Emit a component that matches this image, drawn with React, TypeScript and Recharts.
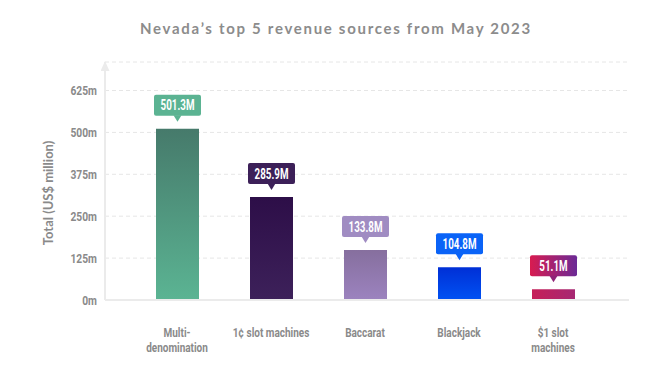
import React from 'react';
import { BarChart, Bar, XAxis, YAxis, CartesianGrid, LabelList, Cell } from 'recharts';

const categories = ['Multi-\ndenomination', '1¢ slot machines', 'Baccarat', 'Blackjack', '$1 slot\nmachines'];
const revenues = [511, 307, 149, 98, 32];
const valueLabels = ['501.3M', '285.9M', '133.8M', '104.8M', '51.1M'];
const yTicks = [0, 125, 250, 375, 500, 625];
const yTickLabels = ['0m', '125m', '250m', '375m', '500m', '625m'];

const barGradients = [
  { id: 'bar0', dir: 'v', from: '#467a6b', to: '#5bb493' },
  { id: 'bar1', dir: 'v', from: '#2d0e48', to: '#3d215a' },
  { id: 'bar2', dir: 'v', from: '#866f9e', to: '#9c83bf' },
  { id: 'bar3', dir: 'v', from: '#002fd6', to: '#0052f3' },
  { id: 'bar4', dir: 'h', from: '#c61f58', to: '#a62873' },
];
const labelGradients = [
  { id: 'lab0', from: '#5bb392', to: '#5bb392', tip: '#5bb392' },
  { id: 'lab1', from: '#3c2058', to: '#3c2058', tip: '#3c2058' },
  { id: 'lab2', from: '#a08cc2', to: '#a08cc2', tip: '#a08cc2' },
  { id: 'lab3', from: '#0a63f7', to: '#0a63f7', tip: '#0a63f7' },
  { id: 'lab4', from: '#d81b50', to: '#6b2a96', tip: '#8f2478' },
];

const data = categories.map((name, i) => ({ name, value: revenues[i], label: valueLabels[i] }));

const COND = "Roboto, 'DejaVu Sans', sans-serif";
const TITLE_FONT = "Lato, 'Open Sans', sans-serif";

const XTick = (props: any) => {
  const { x, y, payload } = props;
  const lines = String(payload.value).split('\n');
  return (
    <g transform={`translate(${x},${y + 37}) scale(0.8,1)`}>
      <text x={0} y={0} textAnchor="middle" fill="#8a8a8a" fontFamily={COND} fontSize={12.5} fontWeight={700}>
        {lines.map((l, i) => (
          <tspan key={i} x={0} dy={i === 0 ? 0 : 15}>{l}</tspan>
        ))}
      </text>
    </g>
  );
};

const YTick = (props: any) => {
  const { x, y, payload } = props;
  const label = yTickLabels[yTicks.indexOf(payload.value)];
  return (
    <g transform={`translate(${x},${y}) scale(0.82,1)`}>
      <text x={0} y={0} dy="0.36em" textAnchor="end" fill="#8a8a8a" fontFamily={COND} fontSize={12.5} fontWeight={700}>
        {label}
      </text>
    </g>
  );
};

const ValueLabel = (props: any) => {
  const { x, y, width, index, value } = props;
  const cx = x + width / 2;
  const gap = 7;
  const tipY = y - gap;
  const boxH = 21;
  const boxW = 47;
  const boxBottom = tipY - 6;
  const boxTop = boxBottom - boxH;
  const g = labelGradients[index];
  return (
    <g>
      <rect x={cx - boxW / 2} y={boxTop} width={boxW} height={boxH} rx={2} ry={2} fill={`url(#${g.id})`} />
      <path d={`M${cx - 4},${boxBottom - 0.5} L${cx + 4},${boxBottom - 0.5} L${cx},${tipY} Z`} fill={g.tip} />
      <g transform={`translate(${cx},${boxTop + boxH / 2}) scale(0.7,1)`}>
        <text x={0} y={0} dy="0.36em" textAnchor="middle" fill="#ffffff" fontFamily={COND} fontSize={14} fontWeight={700}>
          {value}
        </text>
      </g>
    </g>
  );
};

const YLabel = (props: any) => {
  const { viewBox } = props;
  const cx = viewBox.x + 17.5;
  const cy = viewBox.y + viewBox.height - 107;
  return (
    <text transform={`translate(${cx},${cy}) rotate(-90)`} textAnchor="middle" dominantBaseline="central" fill="#8a8a8a" fontFamily={TITLE_FONT} fontSize={13} fontWeight={700}>
      Total (US$ million)
    </text>
  );
};

export default function App() {
  return (
    <div style={{ position: 'absolute', left: 0, top: 0, width: 670, height: 380, background: '#ffffff' }}>
      <BarChart width={670} height={380} data={data} margin={{ top: 62, right: 41, bottom: 20, left: 30 }}>
        <defs>
          {barGradients.map((g) => (
            <linearGradient key={g.id} id={g.id} x1="0" y1="0" x2={g.dir === 'h' ? '1' : '0'} y2={g.dir === 'h' ? '0' : '1'}>
              <stop offset="0%" stopColor={g.from} />
              <stop offset="100%" stopColor={g.to} />
            </linearGradient>
          ))}
          {labelGradients.map((g) => (
            <linearGradient key={g.id} id={g.id} x1="0" y1="0" x2="1" y2="0">
              <stop offset="0%" stopColor={g.from} />
              <stop offset="100%" stopColor={g.to} />
            </linearGradient>
          ))}
          <marker id="arrowUp" markerWidth={9} markerHeight={11} refX={4.5} refY={1} orient="0" markerUnits="userSpaceOnUse" viewBox="0 0 9 11">
            <path d="M4.5 0 L9 10 L0 10 Z" fill="#ebebeb" />
          </marker>
        </defs>
        <CartesianGrid vertical={false} stroke="#e6e6e6" strokeDasharray="4 3" />
        <XAxis
          dataKey="name"
          height={60}
          tickLine={false}
          tickSize={0}
          tickMargin={0}
          axisLine={{ stroke: '#ebebeb', strokeWidth: 2 }}
          padding={{ left: 25, right: 29 }}
          tick={<XTick />}
          interval={0}
        />
        <YAxis
          width={75}
          domain={[0, 710]}
          ticks={yTicks}
          interval={0}
          tickLine={false}
          tickSize={0}
          tickMargin={8}
          axisLine={{ stroke: '#ebebeb', strokeWidth: 2, markerStart: 'url(#arrowUp)' } as any}
          tick={<YTick />}
          label={{ content: <YLabel /> } as any}
        />
        <Bar dataKey="value" barSize={43} isAnimationActive={false}>
          {data.map((d, i) => (
            <Cell key={d.name} fill={`url(#bar${i})`} />
          ))}
          <LabelList dataKey="label" content={<ValueLabel />} />
        </Bar>
      </BarChart>
      <svg width={670} height={60} style={{ position: 'absolute', left: 0, top: 0, pointerEvents: 'none' }}>
        <text x={336} y={34} textAnchor="middle" fill="#8c8c8c" fontFamily={TITLE_FONT} fontSize={15} fontWeight={700} letterSpacing={1.7}>
          Nevada’s top 5 revenue sources from May 2023
        </text>
      </svg>
    </div>
  );
}
